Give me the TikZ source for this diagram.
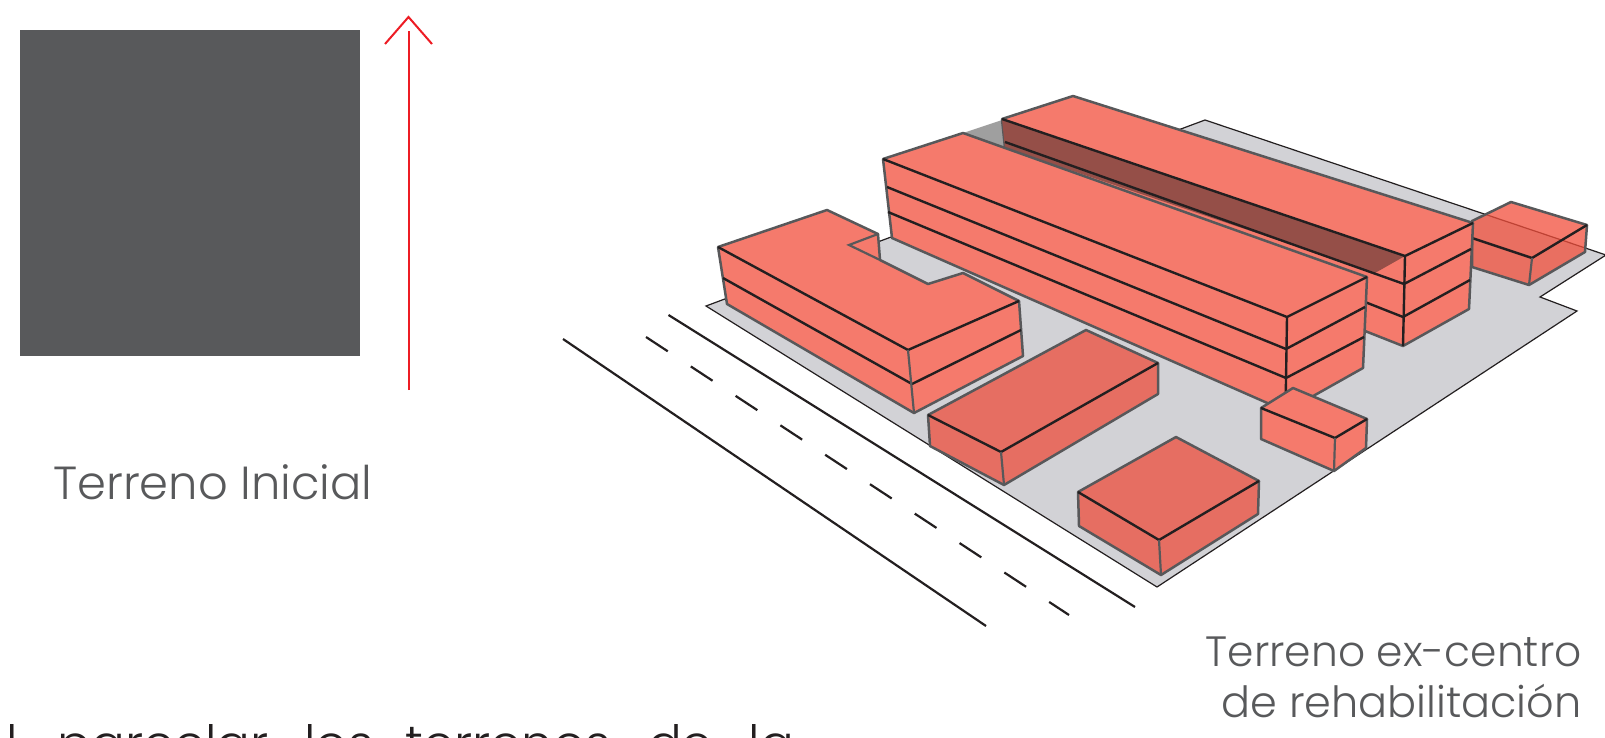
\documentclass[tikz,border=0pt]{standalone}
\usepackage{fontspec}
\usepackage{xcolor}
\setmainfont{Poppins Light}
\definecolor{slab}{HTML}{58595B}
\definecolor{lightred}{HTML}{F57A6C}
\definecolor{darkred}{HTML}{E66E62}
\definecolor{glassred}{RGB}{242,78,59}
\definecolor{shadowred}{HTML}{954F48}
\definecolor{platecol}{HTML}{D2D2D6}
\definecolor{inkline}{HTML}{231F20}
\definecolor{edgeline}{HTML}{58585A}
\definecolor{arrowred}{HTML}{ED1C24}

\begin{document}
\begin{tikzpicture}[
    x=0.5pt, y=-0.5pt,
    plate/.style={draw=inkline, line width=0.6pt, fill=platecol, line join=miter},
    lightbox/.style={draw=edgeline, line width=1.25pt, fill=lightred, line join=round},
    darkbox/.style={draw=edgeline, line width=1.25pt, fill=darkred, line join=round},
    glassbox/.style={draw=edgeline, line width=1.25pt, fill=glassred, fill opacity=0.75, line join=round},
    floorline/.style={draw=inkline, line width=1.2pt, line join=round},
    corner/.style={draw=edgeline, line width=1.1pt},
    road/.style={draw=inkline, line width=1.1pt},
    redline/.style={draw=arrowred, line width=1pt},
    label/.style={text=slab, inner sep=0pt},
  ]
    \useasboundingbox (0,0) rectangle (1605,738);
    \clip (0,0) rectangle (1605,738);

    \fill[slab] (20,30) rectangle (360,355.5);

    \coordinate (arrowtail) at (408.5,390);
    \coordinate (arrowhead) at (408.5,31);
    \coordinate (apex) at (408.5,17);
    \draw[redline] (arrowtail) -- (arrowhead);
    \draw[redline] (385,44) -- (apex) -- (432,44);

    \node[label, anchor=base west, font=\fontsize{23.2}{24}\selectfont] (inicial) at (53,499) {Terreno Inicial};
    \node[label, anchor=base east, font=\fontsize{21.2}{22}\selectfont] (excentro) at (1582,666) {Terreno ex-centro};
    \node[label, anchor=base east, font=\fontsize{21.5}{22}\selectfont] (rehab) at (1582,717) {de rehabilitación};
    \node[anchor=base west, inner sep=0pt, text=inkline, font=\fontsize{25}{26}\selectfont] (parcelar) at (6,761)
      {l\hspace{20pt}parcelar\hspace{18pt}los\hspace{16pt}terrenos\hspace{18.5pt}de\hspace{18pt}la};

    \draw[plate] (706,306) -- (1157,587) -- (1577,311) -- (1540,297) -- (1606,255) -- (1205,120) -- cycle;

    \draw[road] (563,339) -- (986,626);
    \draw[road] (668.5,315) -- (1135,607);
    \draw[road, dash pattern=on 13pt off 13.8pt] (646,337) -- (1069,615);

    \fill[gray!75] (963,133) -- (1002,120) -- (1005,148) -- cycle;

    \draw[glassbox] (1472,221) -- (1511,202) -- (1587,225) -- (1585,252) -- (1529,285) -- (1472,267) -- cycle;
    \draw[floorline] (1472,238) -- (1532,258) -- (1587,225);
    \draw[corner] (1532,258) -- (1529,285);

    \draw[lightbox] (1002,119) -- (1073,96) -- (1473,223) -- (1469,309) -- (1403,346) -- (1365,331) -- (1005,148) -- cycle;
    \fill[shadowred] (1002,119) -- (1405,256) -- (1375,273) -- (1005,148) -- cycle;
    \draw[floorline] (1002,119) -- (1405,256) -- (1473,223);
    \draw[floorline] (1005,142) -- (1404,284) -- (1471,249);
    \draw[floorline] (1365,302) -- (1403,317) -- (1470,280);
    \draw[floorline] (1405,256) -- (1403,346);

    \draw[lightbox] (883,159) -- (963,133) -- (1367,277) -- (1363,368) -- (1315,395) -- (1285.5,411) -- (892,238) -- cycle;
    \draw[floorline] (883,159) -- (1287,317) -- (1367,277);
    \draw[floorline] (887,187) -- (1286,349) -- (1365,307);
    \draw[floorline] (888,212) -- (1286,378) -- (1364,337);
    \draw[floorline] (1287,317) -- (1285.5,411);

    \draw[lightbox] (718,247) -- (827,210) -- (878,234) -- (880,260) -- (928,284) -- (963,273) -- (1019,301) -- (1023,356) -- (914,413) -- (727,304) -- cycle;
    \draw[corner] (880,260) -- (849,245) -- (878,234);
    \draw[floorline] (718,247) -- (908,350) -- (1019,301);
    \draw[floorline] (723,278) -- (912,384) -- (1021,330);
    \draw[corner] (908,350) -- (914,413);

    \draw[darkbox] (928,415) -- (1086,330) -- (1158,363) -- (1158,394) -- (1004,485) -- (930,446) -- cycle;
    \draw[floorline] (928,415) -- (1001,452) -- (1158,363);
    \draw[corner] (1001,452) -- (1004,485);

    \draw[darkbox] (1078,492) -- (1176,437) -- (1259,481) -- (1258,514) -- (1161,575) -- (1079,526) -- cycle;
    \draw[floorline] (1078,492) -- (1159,540) -- (1259,481);
    \draw[corner] (1159,540) -- (1161,575);

    \draw[lightbox] (1261,408) -- (1293,388) -- (1367,419) -- (1366,448) -- (1334,471) -- (1261,439) -- cycle;
    \draw[floorline] (1261,408) -- (1335,438) -- (1367,419);
    \draw[corner] (1335,438) -- (1334,471);
  \end{tikzpicture}
\end{document}
